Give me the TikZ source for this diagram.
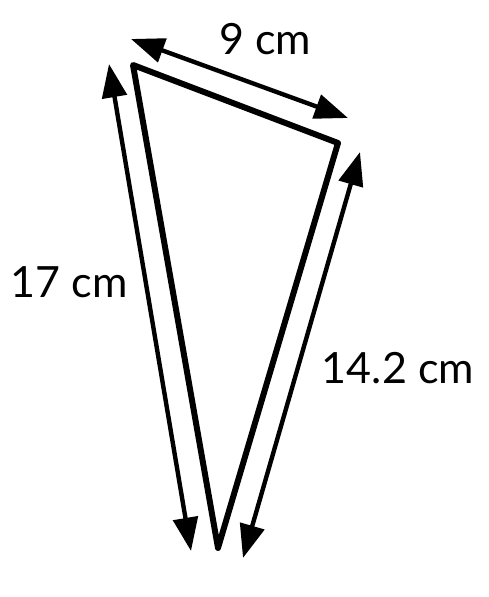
\documentclass[tikz,border=0pt]{standalone}
\usepackage{fontspec}
\setmainfont{Lato}
\usetikzlibrary{arrows.meta}

\begin{document}
\begin{tikzpicture}[x=0.02cm, y=-0.02cm,
  side/.style={line width=3.4pt, line join=round, line cap=round},
  measure/.style={line width=2.5pt, {Triangle[length=19pt, width=14pt]}-{Triangle[length=19pt, width=14pt]}},
  lbl/.style={font=\fontsize{24.5}{28}\selectfont, inner sep=0pt}]
\useasboundingbox (0,0) rectangle (489,597);

% corners of the triangle
\coordinate (A) at (133, 65);
\coordinate (B) at (338, 143);
\coordinate (C) at (218, 548);

% ends of the measuring arrows
\coordinate (t1) at (131, 39);
\coordinate (t2) at (348, 118);
\coordinate (l1) at (109, 64);
\coordinate (l2) at (191, 551);
\coordinate (r1) at (360, 152);
\coordinate (r2) at (243, 558);

\draw[side] (A) -- (B) -- (C) -- cycle;

\draw[measure] (t1) -- (t2);
\draw[measure] (l1) -- (l2);
\draw[measure] (r1) -- (r2);

\node[lbl] (top) at (265, 39) {9 cm};
\node[lbl] (left) at (69, 282) {17 cm};
\node[lbl] (right) at (398, 368) {14.2 cm};

\end{tikzpicture}
\end{document}
